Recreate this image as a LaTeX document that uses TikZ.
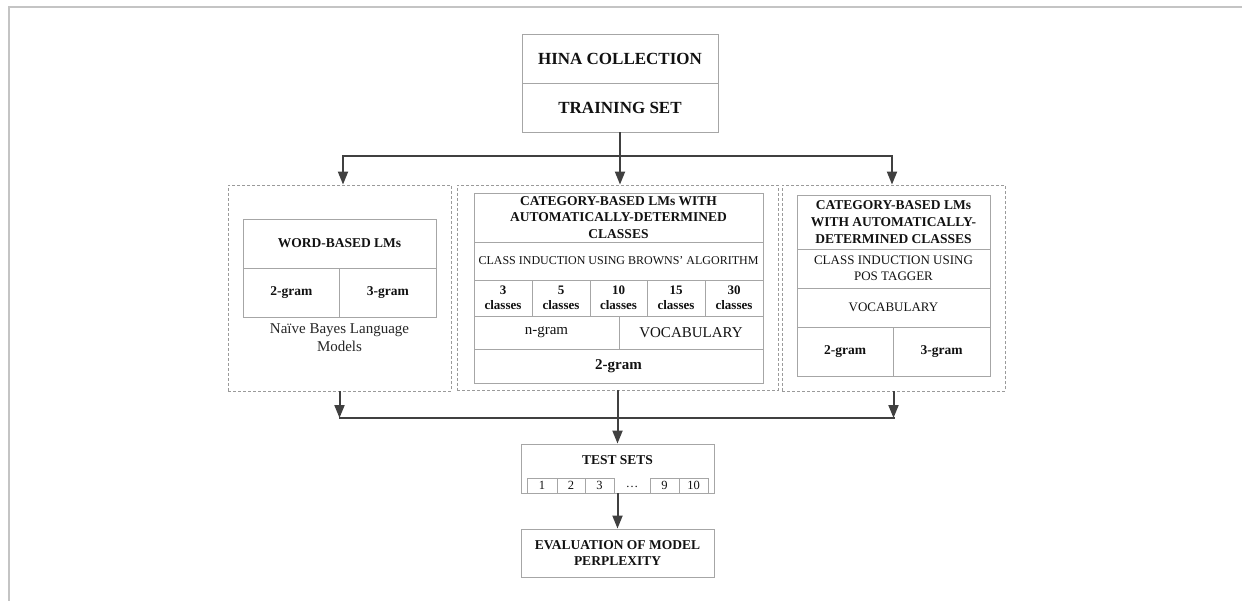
\documentclass[tikz,border=0pt]{standalone}
\usepackage{fontspec}
\setmainfont{Liberation Serif}
\usetikzlibrary{arrows.meta}
\definecolor{boxgray}{HTML}{A6A6A6}
\definecolor{dashgray}{HTML}{9A9A9A}
\definecolor{arrgray}{HTML}{404040}
\definecolor{framegray}{HTML}{C4C4C4}
\definecolor{txt}{HTML}{111111}
\begin{document}
\begin{tikzpicture}[x=1pt,y=-1pt,
  box/.style={draw=boxgray, line width=0.9pt, inner sep=0pt, align=center, text=txt},
  dbox/.style={draw=dashgray, line width=0.9pt, dash pattern=on 3pt off 2pt, inner sep=0pt},
  arr/.style={draw=arrgray, line width=2pt, -{Triangle[width=10pt,length=13pt]}},
  ln/.style={draw=arrgray, line width=2pt, line cap=rect},
  fA/.style={font=\fontsize{17}{20}\selectfont\bfseries},
  fB/.style={font=\fontsize{13.5}{16.5}\selectfont\bfseries},
  fC/.style={font=\fontsize{12}{14}\selectfont},
  fD/.style={font=\fontsize{15}{18}\selectfont},
  fE/.style={font=\fontsize{13}{16}\selectfont},
  fF/.style={font=\fontsize{13}{15}\selectfont\bfseries},
  fG/.style={font=\fontsize{15}{18}\selectfont\bfseries},
  fN/.style={font=\fontsize{12.5}{14}\selectfont},
]
\useasboundingbox (0,0) rectangle (1242,601);
\draw[framegray, line width=2pt] (9,601) -- (9,7) -- (1242,7);

% top
\node[box,fA,minimum width=196pt,minimum height=49pt] (hina) at (620,58.5) {HINA COLLECTION};
\node[box,fA,minimum width=196pt,minimum height=49pt] (train) at (620,107.5) {TRAINING SET};

% dashed groups
\node[dbox,minimum width=223pt,minimum height=206pt] (dl) at (339.5,288) {};
\node[dbox,minimum width=321pt,minimum height=205pt] (dm) at (617.5,287.5) {};
\node[dbox,minimum width=223pt,minimum height=206pt] (dr) at (893.5,288) {};

% left group
\node[box,fB,minimum width=193pt,minimum height=49pt] (wb) at (339.5,243.5) {WORD-BASED LMs};
\node[box,fB,minimum width=96.5pt,minimum height=49pt] (lg2) at (291.25,292.5) {2-gram};
\node[box,fB,minimum width=96.5pt,minimum height=49pt] (lg3) at (387.75,292.5) {3-gram};
\node[fD,align=center,text=black!85,inner sep=0pt] (nb) at (339.5,338) {Naïve Bayes Language\\Models};

% middle group
\node[box,fB,minimum width=289pt,minimum height=49pt] (cat1) at (618.5,217.5) {CATEGORY-BASED LMs WITH\\AUTOMATICALLY-DETERMINED\\CLASSES};
\node[box,fC,minimum width=289pt,minimum height=38pt] (ci1) at (618.5,261) {CLASS INDUCTION USING BROWNS’ ALGORITHM};
\node[box,fF,minimum width=58pt,minimum height=36pt] (c1) at (503,298) {3\\classes};
\node[box,fF,minimum width=58pt,minimum height=36pt] (c2) at (561,298) {5\\classes};
\node[box,fF,minimum width=57pt,minimum height=36pt] (c3) at (618.5,298) {10\\classes};
\node[box,fF,minimum width=58pt,minimum height=36pt] (c4) at (676,298) {15\\classes};
\node[box,fF,minimum width=58pt,minimum height=36pt] (c5) at (734,298) {30\\classes};
\node[box,fD,minimum width=145pt,minimum height=33pt] (ng) at (546.5,332.5) {n-gram};
\node[box,fD,minimum width=144pt,minimum height=33pt] (voc) at (691,332.5) {VOCABULARY};
\node[box,fG,minimum width=289pt,minimum height=34pt] (mg2) at (618.5,366) {2-gram};

% right group
\node[box,fB,minimum width=193pt,minimum height=54pt,font=\fontsize{13.5}{17}\selectfont\bfseries] (cat2) at (893.5,222) {CATEGORY-BASED LMs\\WITH AUTOMATICALLY-\\DETERMINED CLASSES};
\node[box,fE,minimum width=193pt,minimum height=39pt] (ci2) at (893.5,268.5) {CLASS INDUCTION USING\\POS TAGGER};
\node[box,fE,minimum width=193pt,minimum height=39pt] (voc2) at (893.5,307.5) {VOCABULARY};
\node[box,fB,minimum width=96pt,minimum height=49pt] (rg2) at (845,351.5) {2-gram};
\node[box,fB,minimum width=97pt,minimum height=49pt] (rg3) at (941.5,351.5) {3-gram};

% test sets
\node[box,minimum width=193pt,minimum height=49pt] (ts) at (617.5,468.5) {};
\node[fB,text=txt,inner sep=0pt] (tsl) at (617.5,460) {TEST SETS};
\node[box,fN,minimum width=30pt,minimum height=15pt] (n1) at (542,485.5) {1};
\node[box,fN,minimum width=28pt,minimum height=15pt] (n2) at (571,485.5) {2};
\node[box,fN,minimum width=29pt,minimum height=15pt] (n3) at (599.5,485.5) {3};
\node[fN,text=txt,inner sep=0pt] (nd) at (632,487) {…};
\node[box,fN,minimum width=29pt,minimum height=15pt] (n9) at (664.5,485.5) {9};
\node[box,fN,minimum width=29pt,minimum height=15pt] (n10) at (693.5,485.5) {10};

% evaluation
\node[box,fB,minimum width=193pt,minimum height=48pt] (ev) at (617.5,553) {EVALUATION OF MODEL\\PERPLEXITY};

% connectors
\coordinate (tl) at (343,156);
\coordinate (tr) at (892,156);
\draw[ln] (tl) -- (tr);
\draw[arr] (train.south) -- (train.south |- dm.north);
\draw[arr] (tl) -- (tl |- dl.north);
\draw[arr] (tr) -- (tr |- dr.north);
\coordinate (bl) at (339.5,418);
\coordinate (br) at (893.5,418);
\draw[ln] (bl) -- (br);
\draw[arr] (dl.south) -- (dl.south |- bl);
\draw[arr] (dr.south) -- (dr.south |- br);
\draw[arr] (dm.south) -- (ts.north);
\draw[arr] (ts.south) -- (ev.north);
\end{tikzpicture}
\end{document}
